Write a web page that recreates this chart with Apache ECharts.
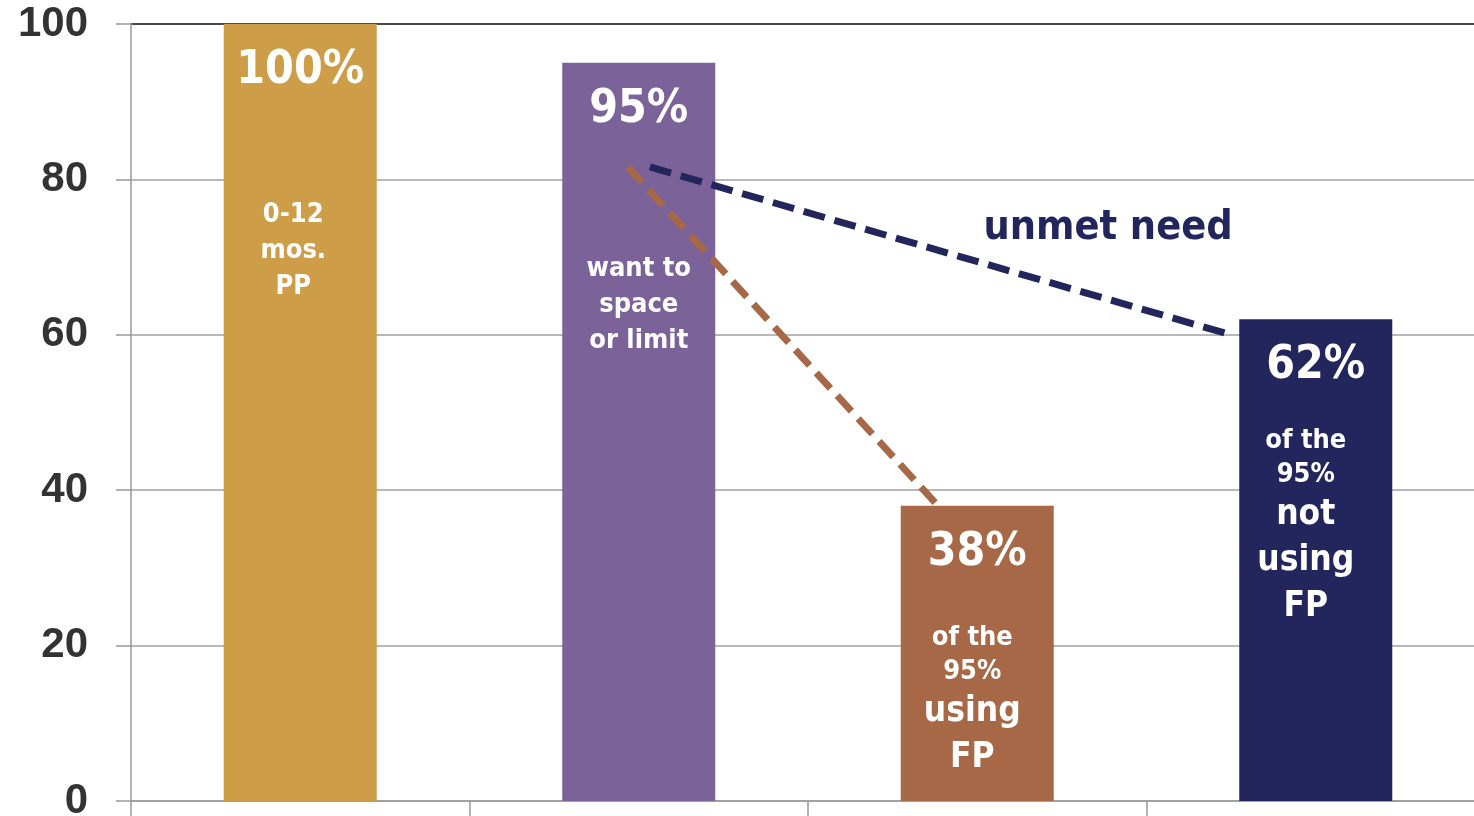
<!DOCTYPE html>
<html>
<head>
<meta charset="utf-8">
<script src="https://cdn.jsdelivr.net/npm/echarts@6/dist/echarts.min.js"></script>
<style>
  html, body { margin: 0; padding: 0; background: #fff; overflow: hidden; }
  #chart { width: 1474px; height: 816px; }
</style>
</head>
<body>
<div id="chart"></div>
<script>
// ---- data ----
const categories = ['0-12 mos. PP', 'want to space or limit', 'using FP', 'not using FP'];
const values = [100, 95, 38, 62];
const pctLabels = ['100%', '95%', '38%', '62%'];
const descLines = [
  ['0-12', 'mos.', 'PP'],
  ['want to', 'space', 'or limit'],
  ['of the', '95%', 'using', 'FP'],
  ['of the', '95%', 'not', 'using', 'FP']
];
const yTicks = [0, 20, 40, 60, 80, 100];
// dashed connector lines, [category position (0..4), value]
const usingLine = [[1.468, 81.6], [2.384, 38]];
const unmetLine = [[1.533, 81.6], [3.241, 60.1]];
const unmetText = 'unmet need';

// ---- styling ----
const colors = ['#CD9D48', '#7B6399', '#A66846', '#22265C'];
const descTop = [173, 188, 115, 105];
const descShift = [-7, 0, -5, -10];
const bigFrom = [99, 99, 2, 2];
const textFont = '"DejaVu Sans Condensed", "DejaVu Sans", sans-serif';

const chart = echarts.init(document.getElementById('chart'));

const barData = values.map((v, i) => ({ value: v, itemStyle: { color: colors[i] } }));
const descData = values.map((v, i) => ({
  value: v,
  label: {
    position: ['50%', descTop[i]],
    offset: [descShift[i], 0],
    formatter: descLines[i].map((t, k) => (k >= bigFrom[i] ? '{b|' : '{s|') + t + '}').join('\n'),
    rich: {
      s: { fontSize: 27, lineHeight: i < 2 ? 36 : 34, fontWeight: 'bold', color: '#fff', fontFamily: textFont, align: 'center' },
      b: { fontSize: 35, lineHeight: 46, fontWeight: 'bold', color: '#fff', fontFamily: textFont, align: 'center' }
    }
  }
}));

const option = {
  animation: false,
  grid: { left: 131, right: -11, top: 24, bottom: 15, containLabel: false, outerBoundsMode: 'none' },
  xAxis: [
    {
      type: 'category',
      data: categories,
      axisLine: { show: true, lineStyle: { color: '#999', width: 1.5 } },
      axisTick: { show: true, length: 15, lineStyle: { color: '#999', width: 1.5 } },
      axisLabel: { show: false },
      splitLine: { show: false }
    },
    { type: 'value', min: 0, max: 4, show: false }
  ],
  yAxis: {
    type: 'value',
    min: yTicks[0],
    max: yTicks[yTicks.length - 1],
    interval: yTicks[1] - yTicks[0],
    axisLine: { show: true, lineStyle: { color: '#999', width: 1.5 } },
    axisTick: { show: true, length: 15, lineStyle: { color: '#999', width: 1.5 } },
    axisLabel: {
      margin: 43,
      fontSize: 42,
      fontWeight: 'bold',
      color: '#333',
      fontFamily: '"Liberation Sans", Arial, sans-serif'
    },
    splitLine: { show: true, lineStyle: { color: ['#A0A0A0', '#A0A0A0', '#A0A0A0', '#A0A0A0', '#A0A0A0', '#111'], width: 1.5 } }
  },
  series: [
    {
      type: 'bar',
      xAxisIndex: 0,
      barWidth: 153,
      data: barData,
      z: 2,
      label: {
        show: true,
        position: 'insideTop',
        distance: 23,
        formatter: p => pctLabels[p.dataIndex],
        fontSize: 46,
        lineHeight: 48,
        fontWeight: 'bold',
        color: '#fff',
        fontFamily: textFont
      }
    },
    {
      type: 'bar',
      xAxisIndex: 0,
      barWidth: 153,
      barGap: '-100%',
      data: descData,
      silent: true,
      z: 3,
      itemStyle: { color: 'rgba(0,0,0,0)' },
      label: { show: true, align: 'center', verticalAlign: 'top' }
    },
    {
      type: 'line',
      xAxisIndex: 1,
      data: usingLine,
      symbol: 'none',
      z: 4,
      lineStyle: { color: '#A66846', width: 7, type: [21, 10] }
    },
    {
      type: 'line',
      xAxisIndex: 1,
      data: unmetLine,
      symbol: 'none',
      z: 4,
      lineStyle: { color: '#22265C', width: 7, type: [22, 10] }
    }
  ],
  graphic: [
    {
      type: 'text',
      x: 1108,
      y: 228,
      style: {
        text: unmetText,
        fill: '#22265C',
        font: 'bold 41px "DejaVu Sans Condensed", "DejaVu Sans", sans-serif',
        textAlign: 'center',
        textVerticalAlign: 'middle'
      }
    }
  ]
};
chart.setOption(option);
</script>
</body>
</html>
